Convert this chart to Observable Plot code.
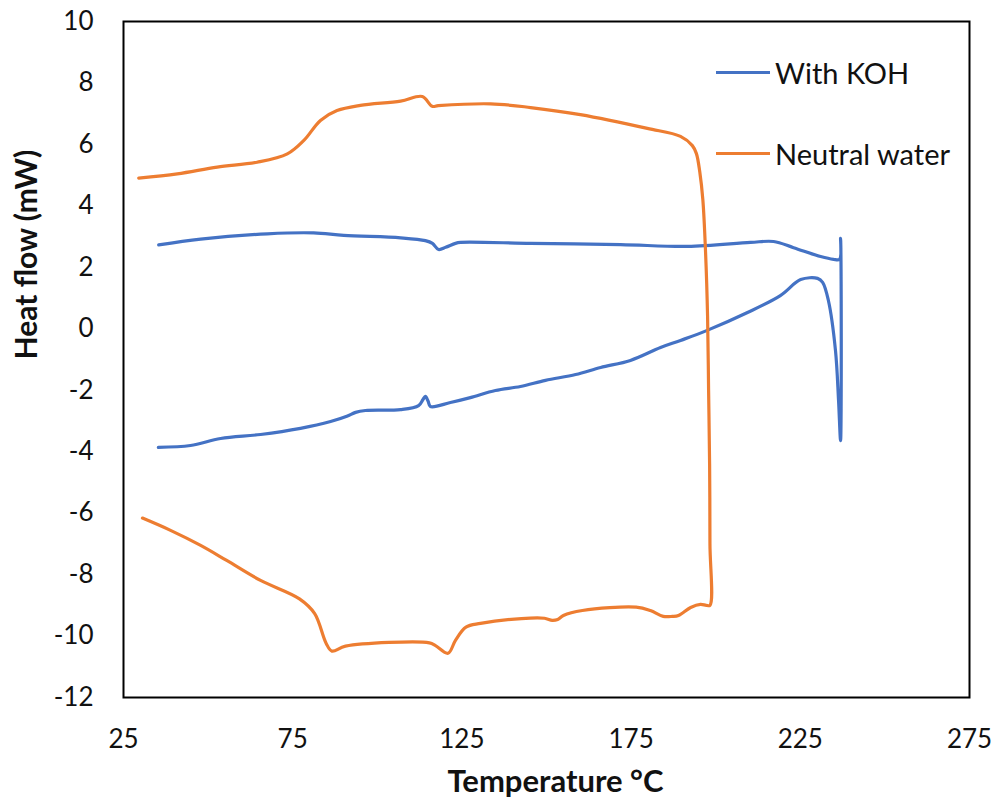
<!DOCTYPE html>
<html>
<head>
<meta charset="utf-8">
<script src="https://cdn.jsdelivr.net/npm/d3@7"></script>
<script src="https://cdn.jsdelivr.net/npm/@observablehq/plot@0.6"></script>
<style>
  body { margin: 0; background: #fff; }
  #wrap { position: relative; width: 997px; height: 798px; font-family: Lato, "Open Sans", sans-serif; }
  #legend { position: absolute; left: 716px; top: 51px; font-size: 29px; color: #111; }
  .row { display: flex; align-items: center; height: 42px; }
  .row + .row { margin-top: 39px; }
  .sw { width: 54px; height: 3px; margin-right: 5px; }
</style>
</head>
<body>
<div id="wrap"></div>
<script>
// With KOH (lower trace left→right, then upper trace right→left)
const kohTemp = [35.3,44.8,53.7,65.5,77.3,86.2,91.0,93.6,96.5,106.9,112.2,113.5,114.2,115.0,115.7,121.6,127.5,134.9,142.3,149.7,158.6,166.0,174.8,183.7,189.6,197.3,209.4,219.1,225.1,230.1,231.6,233.3,235.4,236.3,236.9,
  236.9,236.6,234.8,231.0,223.0,217.1,210.3,191.7,171.9,145.3,124.6,123.1,120.2,118.1,116.3,114.2,106.9,90.1,81.2,67.5,47.8,35.4];
const kohFlow = [-3.86,-3.80,-3.57,-3.44,-3.24,-3.02,-2.85,-2.72,-2.66,-2.63,-2.50,-2.30,-2.20,-2.35,-2.53,-2.40,-2.24,-2.01,-1.88,-1.68,-1.49,-1.26,-1.03,-0.61,-0.38,-0.06,0.53,1.08,1.60,1.64,1.51,0.92,-0.71,-2.33,-3.64,
  2.94,2.26,2.26,2.35,2.64,2.84,2.81,2.68,2.74,2.78,2.81,2.78,2.65,2.58,2.78,2.87,2.96,3.04,3.12,3.09,2.92,2.73];

// Neutral water (lower trace left→right, then upper trace right→left)
const waterTemp = [30.6,38.9,47.8,55.5,65.5,77.0,81.5,84.9,86.6,90.6,115.4,117.2,120.9,123.1,126.2,130.5,142.6,149.4,151.7,153.3,155.0,160.6,176.5,180.7,184.5,187.2,189.0,192.6,195.5,197.2,198.3,
  198.3,198.2,197.9,197.6,197.0,196.2,195.3,194.3,193.1,189.6,179.8,160.0,145.3,133.5,118.0,116.2,113.3,106.9,95.0,88.1,83.2,78.3,73.4,64.5,52.7,40.9,29.5];
const waterFlow = [-6.16,-6.56,-7.05,-7.54,-8.19,-8.79,-9.27,-10.24,-10.49,-10.33,-10.22,-10.31,-10.56,-10.14,-9.71,-9.59,-9.43,-9.42,-9.49,-9.46,-9.33,-9.17,-9.06,-9.17,-9.36,-9.36,-9.33,-9.07,-8.97,-9.0,-9.0,
  -7.0,-4.4,-2.0,0.4,2.5,4.2,5.1,5.7,5.96,6.26,6.52,6.97,7.20,7.32,7.26,7.24,7.56,7.41,7.27,7.10,6.78,6.13,5.69,5.42,5.26,5.04,4.90];

const xTicks = [25, 75, 125, 175, 225, 275];
const yTicks = [-12, -10, -8, -6, -4, -2, 0, 2, 4, 6, 8, 10];
const seriesNames = ["With KOH", "Neutral water"];
const seriesColors = ["#4472C4", "#ED7D31"];
const xTitle = "Temperature °C";
const yTitle = "Heat flow (mW)";

const rows = [];
kohTemp.forEach((t, i) => rows.push({series: seriesNames[0], t, q: kohFlow[i]}));
waterTemp.forEach((t, i) => rows.push({series: seriesNames[1], t, q: waterFlow[i]}));

const chart = Plot.plot({
  width: 997,
  height: 798,
  marginLeft: 123,
  marginRight: 28,
  marginTop: 21,
  marginBottom: 101,
  style: {fontFamily: "Lato, 'Open Sans', sans-serif", fontSize: "26px", color: "#111", background: "#fff"},
  x: {domain: [25, 275], ticks: xTicks, tickSize: 0, tickPadding: 32, tickFormat: d => String(d), label: null},
  y: {domain: [-12, 10], ticks: yTicks, tickSize: 0, tickPadding: 30, tickFormat: d => String(d), label: null},
  color: {domain: seriesNames, range: seriesColors},
  marks: [
    Plot.line(rows, {x: "t", y: "q", z: "series", stroke: "series", strokeWidth: 3.2, strokeLinejoin: "round", curve: "catmull-rom"}),
    Plot.frame({stroke: "#000", strokeWidth: 2}),
    Plot.text([xTitle], {frameAnchor: "bottom", dx: 9, dy: 94, fontWeight: "bold", fontSize: 31}),
    Plot.text([yTitle], {frameAnchor: "left", dx: -96, rotate: -90, fontWeight: "bold", fontSize: 30})
  ]
});

const wrap = document.getElementById("wrap");
wrap.appendChild(chart);
const legend = document.createElement("div");
legend.id = "legend";
seriesNames.forEach((name, i) => {
  const row = document.createElement("div");
  row.className = "row";
  const sw = document.createElement("div");
  sw.className = "sw";
  sw.style.background = seriesColors[i];
  const label = document.createElement("span");
  label.textContent = name;
  row.appendChild(sw);
  row.appendChild(label);
  legend.appendChild(row);
});
wrap.appendChild(legend);
</script>
</body>
</html>
